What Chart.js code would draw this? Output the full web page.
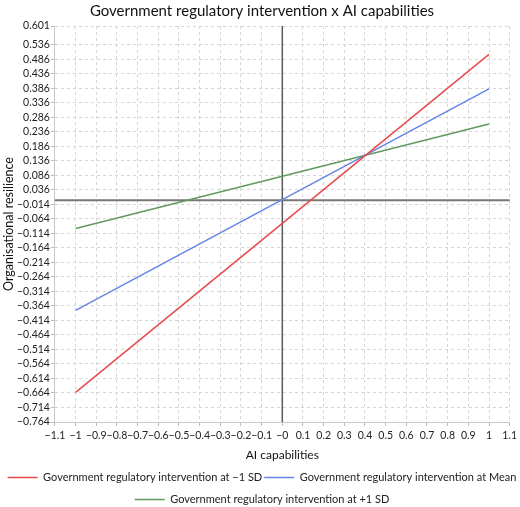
<!DOCTYPE html>
<html>
<head>
<meta charset="utf-8">
<script src="https://cdn.jsdelivr.net/npm/chart.js@4/dist/chart.umd.min.js"></script>
<style>
  html, body { margin: 0; padding: 0; background: #fff; }
  #wrap { width: 520px; height: 507px; }
</style>
</head>
<body>
<div id="wrap"><canvas id="chart"></canvas></div>
<script>
// values
var aiCapabilities = [-1, 1];
var atLowSD = [-0.662, 0.503];
var atMean = [-0.379, 0.384];
var atHighSD = [-0.097, 0.263];

var xTicks = [-1.1, -1, -0.9, -0.8, -0.7, -0.6, -0.5, -0.4, -0.3, -0.2, -0.1, 0,
              0.1, 0.2, 0.3, 0.4, 0.5, 0.6, 0.7, 0.8, 0.9, 1, 1.1];
var xTickLabels = ['−1.1', '−1', '−0.9', '−0.8', '−0.7', '−0.6', '−0.5', '−0.4', '−0.3', '−0.2', '−0.1', '−0',
                   '0.1', '0.2', '0.3', '0.4', '0.5', '0.6', '0.7', '0.8', '0.9', '1', '1.1'];
var yTicks = [-0.764, -0.714, -0.664, -0.614, -0.564, -0.514, -0.464, -0.414, -0.364, -0.314,
              -0.264, -0.214, -0.164, -0.114, -0.064, -0.014, 0.036, 0.086, 0.136, 0.186,
              0.236, 0.286, 0.336, 0.386, 0.436, 0.486, 0.536, 0.601];
var yTickLabels = yTicks.map(function (v) {
    return (v < 0 ? '−' : '') + Math.abs(v).toFixed(3);
});

var seriesNames = ['Government regulatory intervention at −1 SD',
                   'Government regulatory intervention at Mean',
                   'Government regulatory intervention at +1 SD'];
var seriesColors = ['#e84a4a', '#6484e6', '#62995f'];

function points(ys) {
    return aiCapabilities.map(function (x, i) { return { x: x, y: ys[i] }; });
}

var FONT = 'Lato, "Noto Sans", sans-serif';
var LEGEND_LINE = 30;

// dark crosshair through the origin
var originLines = {
    id: 'originLines',
    beforeDatasetsDraw: function (chart) {
        var ctx = chart.ctx, a = chart.chartArea;
        var x0 = chart.scales.x.getPixelForValue(0);
        var y0 = chart.scales.y.getPixelForValue(0);
        ctx.save();
        ctx.strokeStyle = '#5a5a5a';
        ctx.lineWidth = 1.5;
        ctx.beginPath();
        ctx.moveTo(x0, a.top);
        ctx.lineTo(x0, a.bottom);
        ctx.stroke();
        ctx.strokeStyle = '#777';
        ctx.lineWidth = 2;
        ctx.beginPath();
        ctx.moveTo(a.left, y0);
        ctx.lineTo(a.right, y0);
        ctx.stroke();
        ctx.restore();
    }
};

// legend boxes are left empty; draw a short line in each instead
var legendLines = {
    id: 'legendLines',
    afterDraw: function (chart) {
        var lg = chart.legend, ctx = chart.ctx;
        if (!lg || !lg.legendHitBoxes) return;
        ctx.save();
        ctx.lineWidth = 1.5;
        lg.legendHitBoxes.forEach(function (hb, i) {
            var y = Math.round(hb.top + hb.height / 2) + 0.5;
            ctx.strokeStyle = seriesColors[i];
            ctx.beginPath();
            ctx.moveTo(hb.left, y);
            ctx.lineTo(hb.left + LEGEND_LINE, y);
            ctx.stroke();
        });
        ctx.restore();
    }
};

new Chart(document.getElementById('chart'), {
    type: 'scatter',
    data: {
        datasets: [atLowSD, atMean, atHighSD].map(function (ys, i) {
            return {
                label: seriesNames[i],
                data: points(ys),
                showLine: true,
                borderColor: seriesColors[i],
                backgroundColor: seriesColors[i],
                borderWidth: 1.5,
                pointRadius: 0
            };
        })
    },
    options: {
        responsive: true,
        maintainAspectRatio: false,
        animation: false,
        layout: { padding: { left: -1, right: -5, top: 0, bottom: -12 } },
        plugins: {
            title: {
                display: true,
                text: 'Government regulatory intervention x AI capabilities',
                color: '#111',
                font: { family: FONT, size: 15, weight: 'normal' },
                padding: { top: 2, bottom: 6 }
            },
            legend: {
                position: 'bottom',
                labels: {
                    color: '#222',
                    font: { family: FONT, size: 11 },
                    boxWidth: LEGEND_LINE,
                    boxHeight: 20,
                    padding: 2,
                    generateLabels: function (chart) {
                        return chart.data.datasets.map(function (ds, i) {
                            return {
                                text: ds.label,
                                fillStyle: 'rgba(0,0,0,0)',
                                strokeStyle: 'rgba(0,0,0,0)',
                                lineWidth: 0,
                                fontColor: '#222',
                                hidden: false,
                                datasetIndex: i
                            };
                        });
                    }
                }
            },
            tooltip: { enabled: false }
        },
        scales: {
            x: {
                type: 'linear',
                min: -1.1,
                max: 1.1,
                afterBuildTicks: function (s) {
                    s.ticks = xTicks.map(function (v) { return { value: v }; });
                },
                ticks: {
                    autoSkip: false,
                    maxRotation: 0,
                    color: '#222',
                    font: { family: FONT, size: 10.5 },
                    padding: 3,
                    callback: function (v, i) { return xTickLabels[i]; }
                },
                grid: {
                    color: '#d6d6d6',
                    tickLength: 4,
                    tickColor: '#bbb'
                },
                border: { display: true, color: '#c8c8c8', dash: [3, 3] },
                title: {
                    display: true,
                    text: 'AI capabilities',
                    color: '#111',
                    font: { family: FONT, size: 12, weight: 'normal' },
                    padding: { top: 3, bottom: 3 }
                }
            },
            y: {
                type: 'linear',
                min: -0.764,
                max: 0.601,
                afterBuildTicks: function (s) {
                    s.ticks = yTicks.map(function (v) { return { value: v }; });
                },
                ticks: {
                    autoSkip: false,
                    color: '#222',
                    font: { family: FONT, size: 10.5 },
                    padding: 1,
                    callback: function (v, i) { return yTickLabels[i]; }
                },
                grid: {
                    color: '#d6d6d6',
                    tickLength: 4,
                    tickColor: '#bbb'
                },
                border: { display: true, color: '#c8c8c8', dash: [3, 3] },
                title: {
                    display: true,
                    text: 'Organisational resilience',
                    color: '#111',
                    font: { family: FONT, size: 12.5, weight: 'normal' },
                    padding: { top: 2, bottom: 0 }
                }
            }
        }
    },
    plugins: [originLines, legendLines]
});
</script>
</body>
</html>
